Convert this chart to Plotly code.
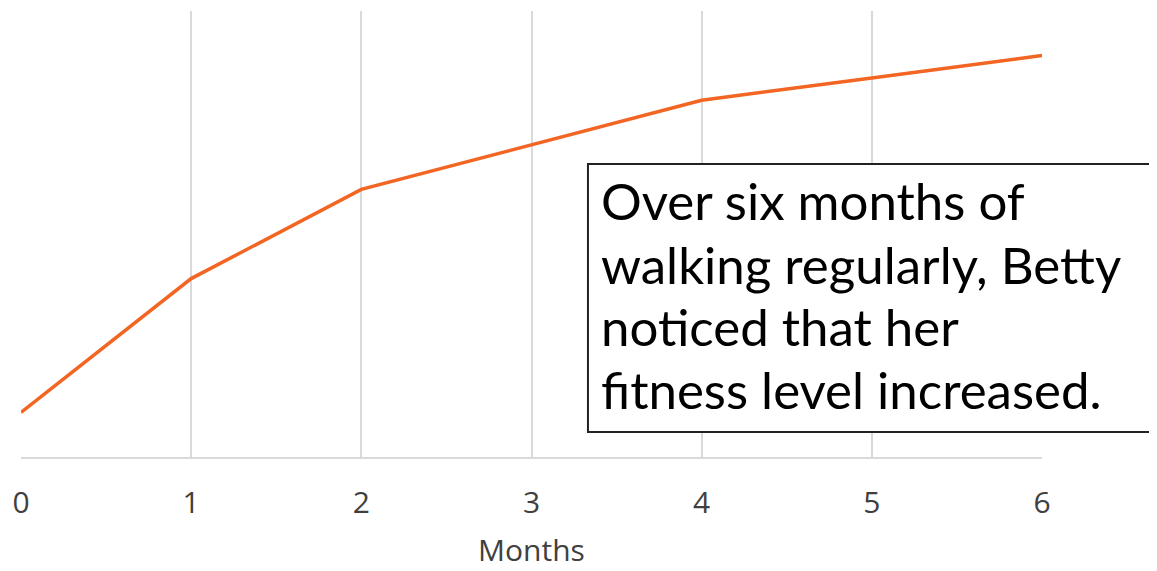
import plotly.graph_objects as go

months = [0, 1, 2, 3, 4, 5, 6]
fitness = [1, 4, 6, 7, 8, 8.5, 9]
tick_labels = ["0", "1", "2", "3", "4", "5", "6"]
note_lines = ["Over six months of", "walking regularly, Betty", "noticed that her", "fitness level increased."]
note_line_y = [0.574, 0.432, 0.293, 0.152]

fig = go.Figure()
fig.add_trace(go.Scatter(x=months, y=fitness, mode="lines",
                         line=dict(color="#f26522", width=3.5), showlegend=False))

fig.update_layout(
    width=1157, height=571,
    margin=dict(l=13, r=123, t=3, b=122, autoexpand=False),
    paper_bgcolor="white", plot_bgcolor="white",
    font=dict(family="Open Sans", color="#404040"),
    xaxis=dict(range=[0, 6], tickvals=months, ticktext=tick_labels,
               showgrid=True, gridcolor="#d9d9d9", gridwidth=2,
               showline=True, linecolor="#d9d9d9", linewidth=2,
               zeroline=False, ticks="outside", ticklen=18, tickcolor="rgba(0,0,0,0)",
               tickfont=dict(size=30, color="#404040"), automargin=False,
               title=dict(text="Months", font=dict(size=30, color="#404040"), standoff=19)),
    yaxis=dict(range=[0, 10], showgrid=False, showticklabels=False,
               zeroline=False, showline=False, automargin=False),
)

fig.add_shape(type="rect", xref="paper", yref="paper",
              x0=0.5553, x1=1.1077, y0=0.056, y1=0.657,
              line=dict(color="#222222", width=2), fillcolor="white", layer="above")

for txt, yy in zip(note_lines, note_line_y):
    fig.add_annotation(
        xref="paper", yref="paper", x=0.566, y=yy, xanchor="left", yanchor="middle",
        text=txt, showarrow=False, align="left",
        font=dict(family="Lato", size=51, color="black"),
    )

fig.write_html("out.html")
